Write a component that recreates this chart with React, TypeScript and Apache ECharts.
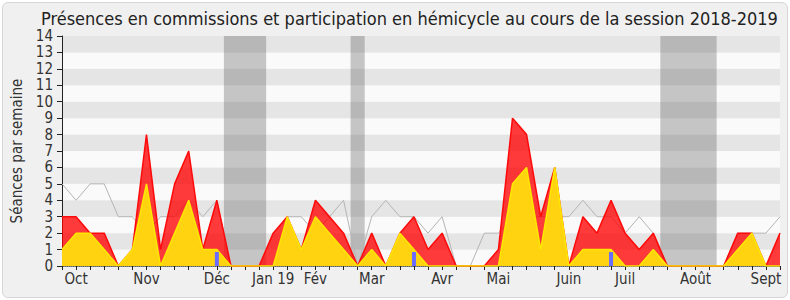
import React, { useEffect, useRef } from 'react';
import * as echarts from 'echarts';

const weeks = [0, 1, 2, 3, 4, 5, 6, 7, 8, 9, 10, 11, 12, 13, 14, 15, 16, 17, 18, 19, 20, 21, 22, 23, 24, 25,
  26, 27, 28, 29, 30, 31, 32, 33, 34, 35, 36, 37, 38, 39, 40, 41, 42, 43, 44, 45, 46, 47, 48, 49, 50, 51];

const hemicycle = [3, 3, 2, 2, 0, 1, 8, 1, 5, 7, 1, 4, 0, 0, 0, 2, 3, 1, 4, 3, 2, 0, 2, 0, 2, 3,
  1, 2, 0, 0, 0, 1, 9, 8, 3, 6, 0, 3, 2, 4, 2, 1, 2, 0, 0, 0, 0, 0, 2, 2, 0, 2];

const commissions = [1, 2, 2, 1, 0, 1, 5, 0, 2, 4, 1, 1, 0, 0, 0, 0, 3, 1, 3, 2, 1, 0, 1, 0, 2, 1,
  0, 0, 0, 0, 0, 0, 5, 6, 1, 6, 0, 1, 1, 1, 0, 0, 1, 0, 0, 0, 0, 0, 1, 2, 0, 0];

const mediane = [5, 4, 5, 5, 3, 3, 2, 3, 3, 4, 3, 4, 0, 0, 0, 0, 3, 3, 2, 3, 4, 0, 3, 4, 3, 3,
  2, 3, 0, 0, 2, 2, 3, 3, 3, 3, 3, 4, 3, 3, 2, 3, 2, 0, 0, 0, 0, 0, 2, 2, 2, 3];

const questionWeeks = [11, 25, 39];
const questionValues = [0.85, 0.85, 0.85];

const monthWeeks = [1, 6, 11, 15, 18, 22, 27, 31, 36, 40, 45, 50];
const monthLabels = ['Oct', 'Nov', 'Déc', 'Jan 19', 'Fév', 'Mar', 'Avr', 'Mai', 'Juin', 'Juil', 'Août', 'Sept'];

const vacationStart = [11.5, 20.5, 42.5];
const vacationEnd = [14.5, 21.5, 46.5];

const yTicks = [0, 1, 2, 3, 4, 5, 6, 7, 8, 9, 10, 11, 12, 13, 14];

const FONT = "'DejaVu Sans Condensed', 'Liberation Sans Narrow', 'DejaVu Sans', sans-serif";

export default function App() {
  const ref = useRef<HTMLDivElement>(null);

  useEffect(() => {
    if (!ref.current) return;
    const chart = echarts.init(ref.current, undefined, { renderer: 'svg' });
    const labelMap: Record<number, string> = {};
    monthWeeks.forEach((w, i) => { labelMap[w] = monthLabels[i]; });
    const pairs = (arr: number[]) => weeks.map((w, i) => [w, arr[i]]);

    chart.setOption({
      animation: false,
      backgroundColor: 'transparent',
      title: {
        text: 'Présences en commissions et participation en hémicycle au cours de la session 2018-2019',
        left: 36,
        top: 4,
        textStyle: { fontFamily: FONT, fontSize: 18, fontWeight: 'normal', color: '#222' },
      },
      grid: { left: 62, right: 10, top: 36, bottom: 34 },
      xAxis: [
        {
          type: 'value',
          min: 0,
          max: weeks[weeks.length - 1],
          interval: 1,
          axisLine: { show: true, onZero: false, lineStyle: { color: '#222', width: 1 } },
          axisTick: { show: true, length: 4, lineStyle: { color: '#222' } },
          splitLine: { show: false },
          axisLabel: {
            formatter: (v: number) => labelMap[v] ?? '',
            fontFamily: FONT,
            fontSize: 15,
            color: '#333',
            margin: 5,
            showMinLabel: true,
            showMaxLabel: true,
            hideOverlap: false,
          },
        },
        {
          type: 'value',
          position: 'top',
          min: 0,
          max: weeks[weeks.length - 1],
          axisLine: { show: true, lineStyle: { color: '#888', type: 'dotted' } },
          axisTick: { show: false },
          axisLabel: { show: false },
          splitLine: { show: false },
        },
      ],
      yAxis: {
        type: 'value',
        min: yTicks[0],
        max: yTicks[yTicks.length - 1],
        interval: 1,
        axisLine: { show: true, lineStyle: { color: '#222' } },
        axisTick: { show: true, length: 5, lineStyle: { color: '#222' } },
        splitLine: { show: false },
        splitArea: { show: true, areaStyle: { color: ['#fafafa', '#e5e5e5'] } },
        axisLabel: { fontFamily: FONT, fontSize: 15, color: '#333', margin: 9 },
        name: 'Séances par semaine',
        nameLocation: 'middle',
        nameGap: 38,
        nameTextStyle: { fontFamily: FONT, fontSize: 15, color: '#333' },
      },
      series: [
        {
          name: 'Médiane',
          type: 'line',
          data: pairs(mediane),
          symbol: 'none',
          lineStyle: { color: '#b4b4b4', width: 1 },
          z: 1,
          markArea: {
            silent: true,
            itemStyle: { color: 'rgba(105,105,105,0.37)' },
            data: vacationStart.map((s, i) => [{ xAxis: s }, { xAxis: vacationEnd[i] }]),
          },
        },
        {
          name: 'Hémicycle',
          type: 'line',
          data: pairs(hemicycle),
          symbol: 'none',
          lineStyle: { color: '#ff0a0a', width: 1.5 },
          areaStyle: { color: 'rgba(255,0,0,0.77)', opacity: 1 },
          z: 2,
        },
        {
          name: 'Commissions',
          type: 'line',
          data: pairs(commissions),
          symbol: 'none',
          lineStyle: { color: '#ffe800', width: 1.5 },
          areaStyle: { color: '#ffd30f', opacity: 1 },
          z: 3,
        },
        {
          name: 'Questions',
          type: 'bar',
          data: questionWeeks.map((w, i) => [w, questionValues[i]]),
          barWidth: 4,
          itemStyle: { color: '#6b6bff' },
          z: 5,
        },
      ],
    });
    return () => chart.dispose();
  }, []);

  return (
    <div style={{ position: 'fixed', left: 0, top: 0, width: 790, height: 300, background: '#ffffff' }}>
      <div
        style={{
          position: 'absolute', left: 2, top: 2, width: 784, height: 294,
          background: '#f0f0f0', border: '1px solid #d6d6d6', borderRadius: 6,
        }}
      />
      <div ref={ref} style={{ position: 'absolute', left: 0, top: 0, width: 790, height: 300 }} />
    </div>
  );
}
